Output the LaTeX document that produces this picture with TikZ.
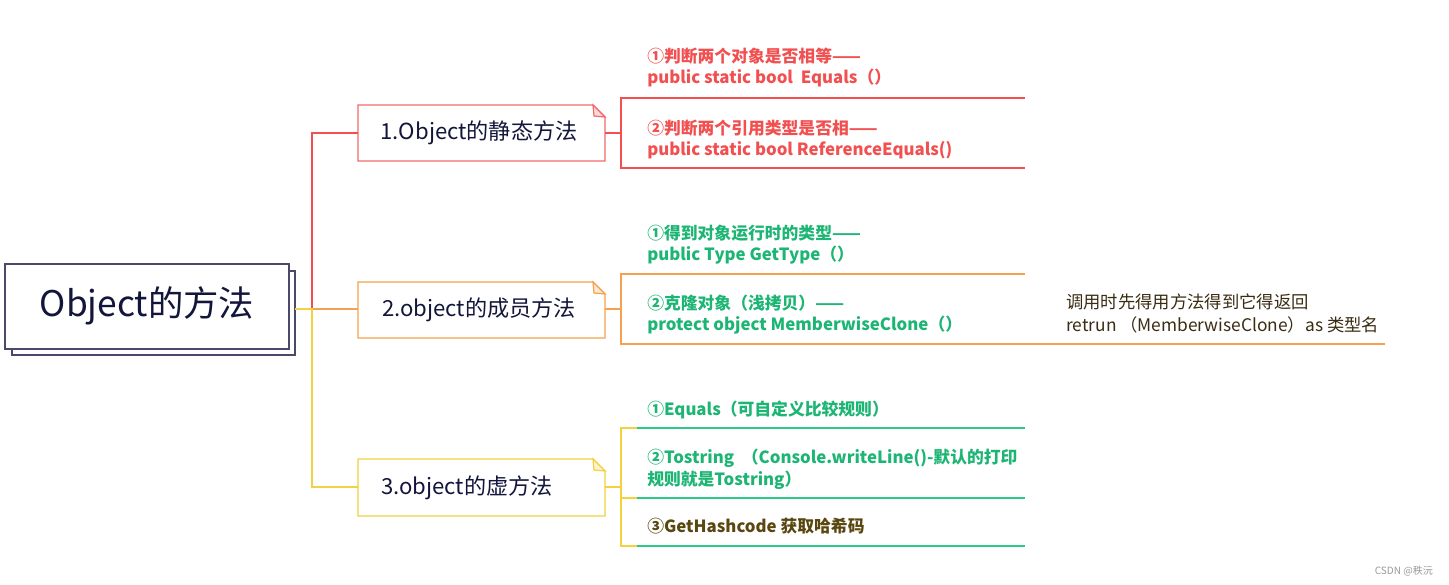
\documentclass[tikz,border=0pt]{standalone}
\usepackage{fontspec}
\setmainfont{Noto Sans CJK SC}
\definecolor{cred}{HTML}{F25050}
\definecolor{credl}{HTML}{F26A6A}
\definecolor{corange}{HTML}{F5A24E}
\definecolor{cyellow}{HTML}{F2D240}
\definecolor{cgreen}{HTML}{1DB574}
\definecolor{cgreenl}{HTML}{2CC98A}
\definecolor{cbrown}{HTML}{5A4710}
\definecolor{cnavy}{HTML}{12163A}
\definecolor{cframe}{HTML}{4A4A68}
\definecolor{cnote}{HTML}{3A2C12}
\begin{document}
\begin{tikzpicture}[x=0.75pt,y=-0.75pt,
  ln/.style={line width=0.9pt},
  ctext/.style={anchor=base west,inner sep=0pt,font=\fontsize{12.6}{15}\selectfont\bfseries},
  ntext/.style={anchor=base west,inner sep=0pt,font=\fontsize{13}{15}\selectfont,text=cnote},
  btext/.style={inner sep=0pt,font=\fontsize{16.6}{19}\selectfont,text=cnavy}]
\useasboundingbox (0,0) rectangle (1449,585);
\fill[white] (0,0) rectangle (1449,585);

% root
\draw[ln,cframe,fill=white] (12,271) rectangle (295,355);
\draw[ln,cframe,fill=white] (5,264) rectangle (289,349);
\node[inner sep=0pt,font=\fontsize{26.5}{31}\selectfont,text=cnavy] (root) at (147,306) {Object的方法};
\coordinate (rootR) at (295,309);
\coordinate (trunk) at (312,309);

% level-1 boxes with folded corner
\newcommand{\foldbox}[4]{% name, color, top y, bottom y
  \draw[ln,#2,fill=white] (358,#3) -- (593,#3) -- (605,#3+12) -- (605,#4) -- (358,#4) -- cycle;
  \draw[ln,#2,fill=#2!25] (593,#3) -- (594,#3+11) -- (605,#3+12) -- cycle;
  \coordinate (#1) at (479,#3/2+#4/2);
}
\foldbox{b1}{credl}{105}{161}
\foldbox{b2}{corange}{282}{338}
\foldbox{b3}{cyellow}{459}{516}
\node[btext] (t1) at (b1) {1.Object的静态方法};
\node[btext] (t2) at (b2) {2.object的成员方法};
\node[btext,anchor=west] (t3) at (381,487.5) {3.object的虚方法};

% connectors root -> boxes
\draw[ln,cred] (trunk) |- (358,133);
\draw[ln,corange] (trunk) -- (358,309);
\draw[ln,cyellow] (rootR) -- (trunk) |- (358,487);

% box1 children
\draw[ln,cred] (605,133) -- (621,133);
\draw[ln,cred] (1025,98) -- (621,98) -- (621,168) -- (1025,168);
\node[ctext,text=cred] (c11a) at (647,63) {①判断两个对象是否相等——};
\node[ctext,text=cred] (c11b) at (647,84) {public static bool\ \ Equals（）};
\node[ctext,text=cred] (c12a) at (647,134) {②判断两个引用类型是否相——};
\node[ctext,text=cred] (c12b) at (647,155) {public static bool ReferenceEquals()};

% box2 children
\draw[ln,corange] (605,309) -- (621,309);
\draw[ln,corange] (1025,274) -- (621,274) -- (621,344) -- (1385,344);
\node[ctext,text=cgreen] (c21a) at (647,239) {①得到对象运行时的类型——};
\node[ctext,text=cgreen] (c21b) at (647,260) {public Type GetType（）};
\node[ctext,text=cgreen] (c22a) at (647,309) {②克隆对象（浅拷贝）——};
\node[ctext,text=cgreen] (c22b) at (647,330) {protect object MemberwiseClone（）};
\node[ntext] (n1) at (1066,308) {调用时先得用方法得到它得返回};
\node[ntext] (n2) at (1066,331) {retrun （MemberwiseClone）as 类型名};

% box3 children
\draw[ln,cyellow] (605,487) -- (621,487);
\draw[ln,cyellow] (637,428) -- (621,428) -- (621,546) -- (637,546);
\draw[ln,cyellow] (621,498) -- (637,498);
\draw[ln,cgreenl] (637,428) -- (1025,428);
\draw[ln,cgreenl] (637,498) -- (1025,498);
\draw[ln,cgreenl] (637,546) -- (1025,546);
\node[ctext,text=cgreen] (c31) at (647,415) {①Equals（可自定义比较规则）};
\node[ctext,text=cgreen] (c32a) at (647,463) {②Tostring\ \ （Console.writeLine()-默认的打印};
\node[ctext,text=cgreen] (c32b) at (647,485) {规则就是Tostring）};
\node[ctext,text=cbrown] (c33) at (647,532) {③GetHashcode 获取哈希码};

% watermark
\node[anchor=base east,inner sep=0pt,font=\fontsize{7.5}{9}\selectfont,text=gray!80] (wm) at (1433,574) {CSDN @秩沅};
\end{tikzpicture}
\end{document}
